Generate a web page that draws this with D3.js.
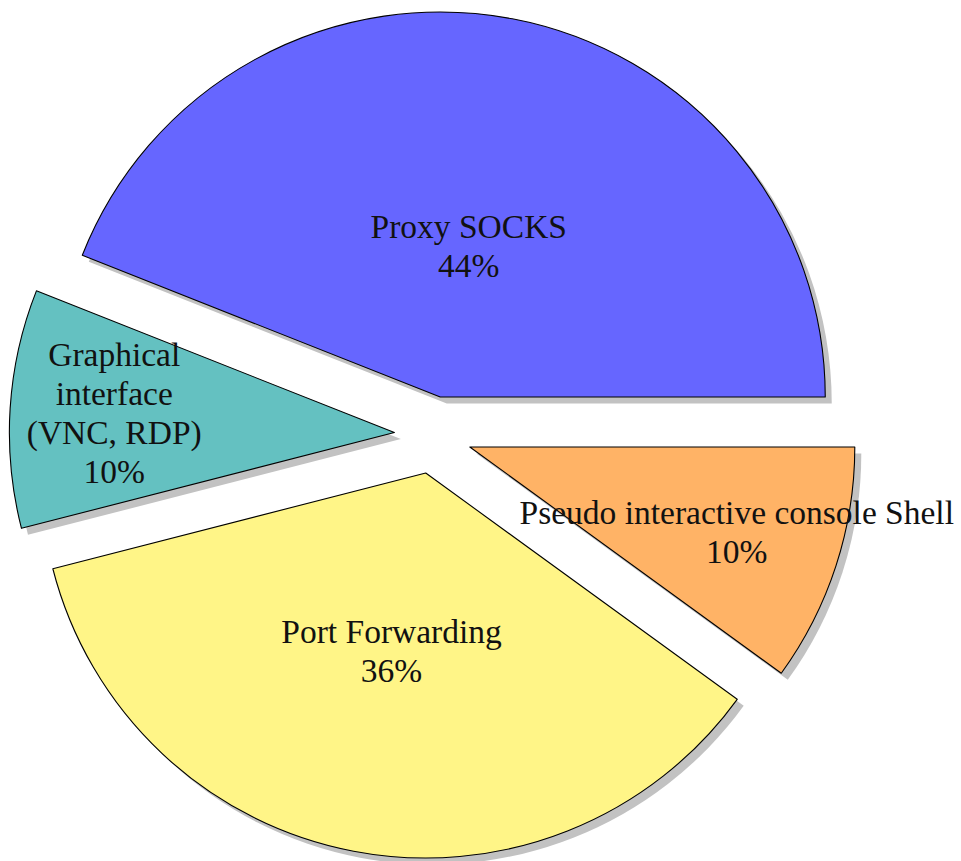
<!DOCTYPE html>
<html><head><meta charset="utf-8">
<script src="https://cdn.jsdelivr.net/npm/d3@7"></script>
<style>html,body{margin:0;padding:0;background:#fff;}</style>
</head><body>
<svg id="chart" width="961" height="861"></svg>
<script>
const categories = ["Proxy SOCKS", "Graphical interface (VNC, RDP)", "Port Forwarding", "Pseudo interactive console Shell"];
const labelLines = [["Proxy SOCKS"], ["Graphical", "interface", "(VNC, RDP)"], ["Port Forwarding"], ["Pseudo interactive console Shell"]];
const values = [44, 10, 36, 10];
const colors = ["#6666ff", "#64c1c1", "#fff587", "#ffb366"];

const W = 961, H = 861;
const cx = 433, cy = 435, R = 385, explode = 38.7;
const shadowDx = 6.5, shadowDy = 6.5;
const fontSize = 33.5, lineH = 39;

const svg = d3.select("#chart");
const total = d3.sum(values);
// angles in degrees, counterclockwise from +x
const angScale = d3.scaleLinear().domain([0, total]).range([0, 360]);
let acc = 0;
const slices = values.map((v, i) => {
  const a0 = angScale(acc); acc += v; const a1 = angScale(acc);
  return {i, v, a0, a1, mid: (a0 + a1) / 2};
});
const rad = d => d * Math.PI / 180;
const arc = d3.arc().innerRadius(0).outerRadius(R);

const g = svg.append("g");
slices.forEach(s => {
  const ox = cx + explode * Math.cos(rad(s.mid));
  const oy = cy - explode * Math.sin(rad(s.mid));
  const path = arc({startAngle: Math.PI / 2 - rad(s.a1), endAngle: Math.PI / 2 - rad(s.a0)});
  g.append("path").attr("d", path)
    .attr("transform", `translate(${ox + shadowDx},${oy + shadowDy})`)
    .attr("fill", "#c2c2c2");
  g.append("path").attr("d", path)
    .attr("transform", `translate(${ox},${oy})`)
    .attr("fill", colors[s.i]).attr("stroke", "#000").attr("stroke-width", 1.1)
    .attr("stroke-linejoin", "round");
  s.ox = ox; s.oy = oy;
});

slices.forEach(s => {
  const span = s.a1 - s.a0;
  let f = Math.min((span - 10) / 110 * (-0.3), 0);
  f = (Math.max(f, -0.5) + 0.8) * R;
  const lx = s.ox + f * Math.cos(rad(s.mid));
  const ly = s.oy - f * Math.sin(rad(s.mid));
  const lines = labelLines[s.i].concat([d3.format(".0f")(s.v) + "%"]);
  const t = svg.append("text")
    .attr("font-family", "'Liberation Serif', 'DejaVu Serif', serif")
    .attr("font-size", fontSize).attr("fill", "#111").attr("text-anchor", "middle");
  const y0 = ly - (lines.length - 1) * lineH / 2 + 10;
  lines.forEach((ln, k) => {
    t.append("tspan").attr("x", lx).attr("y", y0 + k * lineH).text(ln);
  });
});
</script>
</body></html>
